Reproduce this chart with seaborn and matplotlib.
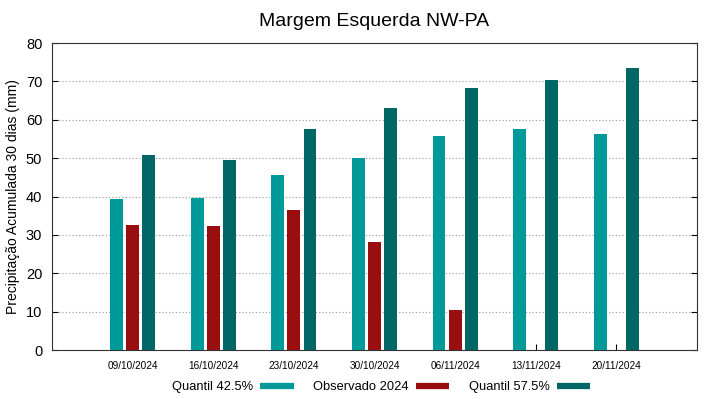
import matplotlib
matplotlib.use("Agg")
import matplotlib.pyplot as plt
import numpy as np
import pandas as pd
import seaborn as sns
from matplotlib.lines import Line2D

datas = ['09/10/2024', '16/10/2024', '23/10/2024', '30/10/2024', '06/11/2024', '13/11/2024', '20/11/2024']
q425 = [39.3, 39.6, 45.6, 50.0, 55.7, 57.6, 56.3]
obs2024 = [32.6, 32.3, 36.5, 28.1, 10.4, np.nan, np.nan]
q575 = [50.8, 49.5, 57.6, 63.0, 68.2, 70.3, 73.4]
series = ['Quantil 42.5%', 'Observado 2024', 'Quantil 57.5%']
cores = ['#009999', '#990f0f', '#006666']

df = pd.DataFrame({
    'data': datas * 3,
    'serie': [series[0]] * 7 + [series[1]] * 7 + [series[2]] * 7,
    'valor': q425 + obs2024 + q575,
})

sns.set_style('white')
plt.rcParams['font.family'] = ['Liberation Sans', 'DejaVu Sans']
plt.rcParams['text.color'] = 'black'
plt.rcParams['axes.labelcolor'] = 'black'
plt.rcParams['xtick.color'] = 'black'
plt.rcParams['ytick.color'] = 'black'

fig, ax = plt.subplots(figsize=(7.19, 3.99), dpi=100)
fig.subplots_adjust(left=0.0723, right=0.9694, top=0.892, bottom=0.1228)

sns.barplot(data=df, x='data', y='valor', hue='serie', hue_order=series,
            palette=cores, width=0.6, gap=0.2, dodge=True, legend=False,
            saturation=1, linewidth=0, ax=ax, zorder=3)

ax.set_xlim(-1, 7)
ax.set_ylim(0, 80)
ax.set_yticks(range(0, 81, 10))
ax.yaxis.grid(True, linestyle=(0, (1, 2)), color='#999999', linewidth=0.8, zorder=0)
ax.set_axisbelow(True)
for s in ax.spines.values():
    s.set_color('#333333')
    s.set_linewidth(0.8)
    s.set_visible(True)
ax.tick_params(axis='y', direction='in', length=4, labelsize=10.5, right=True, left=True, pad=7)
ax.tick_params(axis='x', direction='in', length=4, labelsize=7.2, bottom=True, pad=8)
ax.set_xlabel('')
ax.set_ylabel('Precipitação Acumulada 30 dias (mm)', fontsize=10)
ax.set_title('Margem Esquerda NW-PA', fontsize=14, pad=12)

handles = [Line2D([0], [0], color=c, lw=4.5, solid_capstyle='butt') for c in cores]
fig.legend(handles, series, loc='center', bbox_to_anchor=(381 / 719, 0.03), ncol=3,
           frameon=False, markerfirst=False, fontsize=9.3, handlelength=2.6,
           columnspacing=1.5, handletextpad=0.55)

fig.savefig('out.png', dpi=100)
